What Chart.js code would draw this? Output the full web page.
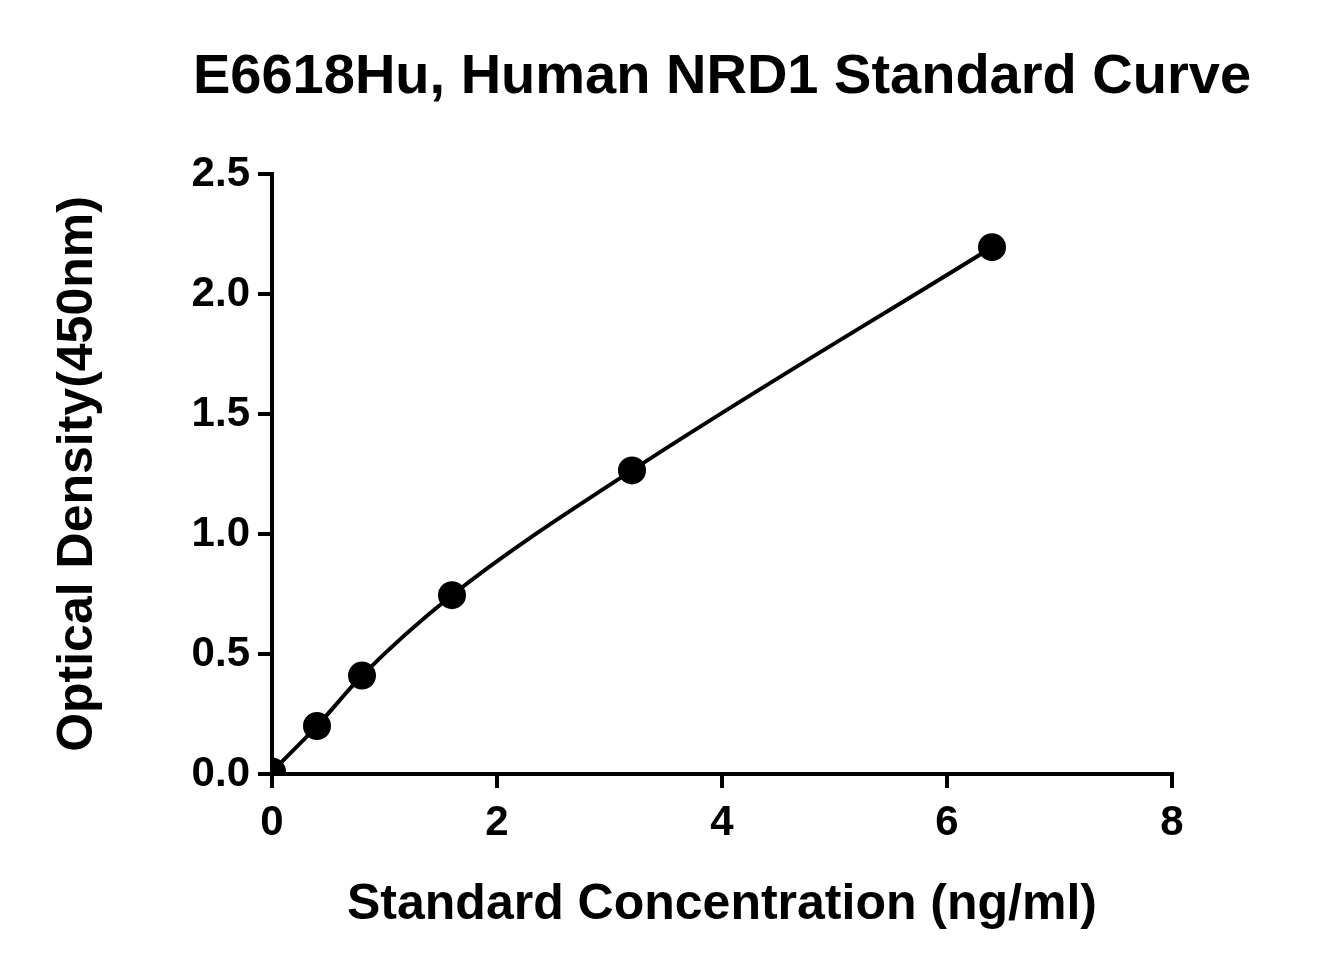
<!DOCTYPE html>
<html>
<head>
<meta charset="utf-8">
<script src="https://cdn.jsdelivr.net/npm/chart.js@4"></script>
<style>
  body { margin: 0; background: #fff; }
  #wrap { width: 1320px; height: 975px; }
</style>
</head>
<body>
<div id="wrap"><canvas id="myChart" width="1320" height="975"></canvas></div>
<script>
const chartTitle = 'E6618Hu, Human NRD1 Standard Curve';
const concentrations = [0, 0.4, 0.8, 1.6, 3.2, 6.4];
const densities = [0.01, 0.2, 0.41, 0.745, 1.265, 2.195];
const xTitle = 'Standard Concentration (ng/ml)';
const yTitle = 'Optical Density(450nm)';

const points = concentrations.map((c, i) => ({ x: c, y: densities[i] }));
const font = 'Liberation Sans, Arial, sans-serif';

const axisGrid = {
    drawOnChartArea: false,
    drawTicks: true,
    tickLength: 14,
    color: '#000',
    lineWidth: 4
};

// title centred over the plot area, like the original
const titlePlugin = {
    id: 'plotTitle',
    afterDraw(chart) {
        const ctx = chart.ctx;
        const a = chart.chartArea;
        ctx.save();
        ctx.fillStyle = '#000';
        ctx.font = 'bold 56px ' + font;
        ctx.textAlign = 'center';
        ctx.textBaseline = 'middle';
        ctx.fillText(chartTitle, (a.left + a.right) / 2, 78);
        ctx.restore();
    }
};

new Chart(document.getElementById('myChart'), {
    type: 'scatter',
    data: {
        datasets: [{
            data: points,
            showLine: true,
            cubicInterpolationMode: 'monotone',
            borderColor: '#000',
            borderWidth: 4,
            backgroundColor: '#000',
            pointRadius: 12,
            pointHoverRadius: 12
        }]
    },
    plugins: [titlePlugin],
    options: {
        responsive: false,
        animation: false,
        layout: { padding: { left: 0, right: 148, top: 174, bottom: 0 } },
        plugins: {
            legend: { display: false },
            tooltip: { enabled: false },
            title: { display: false }
        },
        scales: {
            x: {
                type: 'linear',
                min: 0, max: 8,
                afterFit: s => { s.height = 201; },
                ticks: { stepSize: 2, color: '#000', padding: 10,
                         font: { family: font, size: 42, weight: 'bold' } },
                grid: axisGrid,
                border: { color: '#000', width: 4 },
                title: { display: true, text: xTitle, color: '#000',
                         font: { family: font, size: 50, weight: 'bold' }, padding: { top: 0, bottom: 40 } }
            },
            y: {
                type: 'linear',
                min: 0, max: 2.5,
                afterFit: s => { s.width = 272; },
                ticks: { stepSize: 0.5, color: '#000', padding: 8,
                         callback: v => v.toFixed(1),
                         font: { family: font, size: 42, weight: 'bold' } },
                grid: axisGrid,
                border: { color: '#000', width: 4 },
                title: { display: true, text: yTitle, color: '#000',
                         font: { family: font, size: 50, weight: 'bold' }, padding: { top: 48, bottom: 0 } }
            }
        }
    }
});
</script>
</body>
</html>
